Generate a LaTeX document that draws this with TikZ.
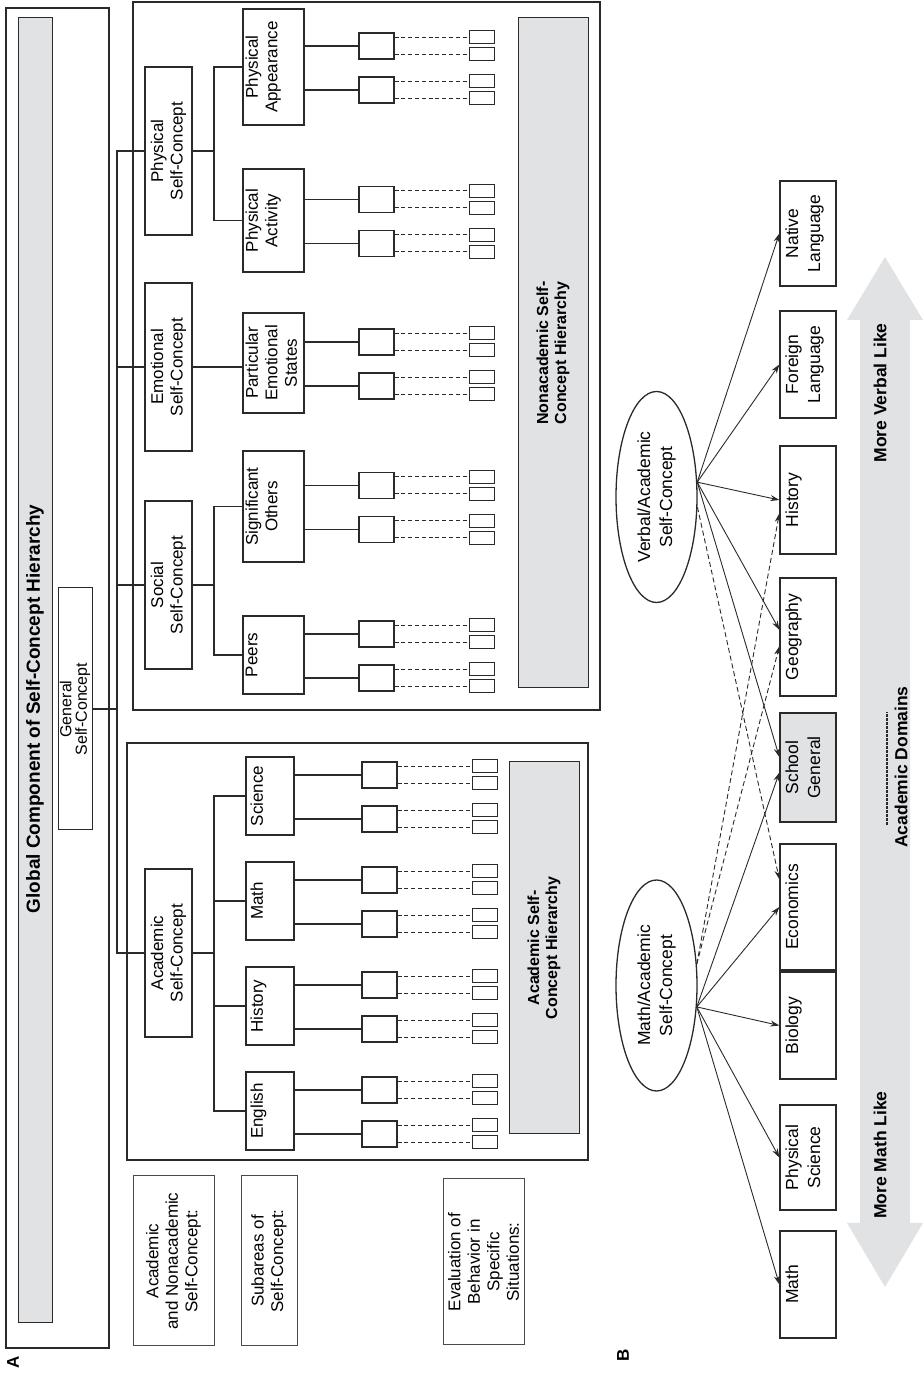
\documentclass[tikz,border=0pt]{standalone}
\usepackage{fontspec}
\setmainfont{Liberation Sans}
\usetikzlibrary{arrows.meta, shapes.geometric, positioning}

\definecolor{ink}{HTML}{2A2A2A}
\definecolor{barfill}{HTML}{E1E2E4}

\newcommand{\bodyfont}{\fontsize{17}{19.5}\selectfont}
\newcommand{\domfont}{\fontsize{17.5}{22}\selectfont}
\newcommand{\headfont}{\fontsize{16}{18}\selectfont\bfseries}
\newcommand{\genfont}{\fontsize{16}{15.5}\selectfont}

\begin{document}
\begin{tikzpicture}[x=1pt, y=1pt, rotate=90, transform shape,
    outer/.style={draw=ink, line width=1.6pt, inner sep=0pt},
    grbar/.style={draw=ink, fill=barfill, line width=1pt, inner sep=0pt, align=center, font=\headfont},
    tier/.style={draw=ink, line width=1.2pt, minimum width=168, minimum height=47, inner sep=0pt,
    align=center, font=\bodyfont},
    subbox/.style={draw=ink, line width=1.2pt, minimum height=61, inner sep=0pt},
    toptext/.style={anchor=north, align=center, inner sep=3pt, font=\bodyfont},
    midbox/.style={draw=ink, line width=1.2pt, minimum width=26, minimum height=35, inner sep=0pt},
    leaf/.style={draw=ink, line width=1pt, minimum width=13, minimum height=25, inner sep=0pt},
    note/.style={draw=ink!85, line width=1pt, inner sep=0pt, align=center, font=\bodyfont},
    dombox/.style={draw=ink, line width=1.3pt, minimum height=56, inner sep=0pt},
    domtext/.style={anchor=north, align=center, inner sep=6pt, font=\domfont},
    selfell/.style={ellipse, draw=ink, line width=1.3pt, minimum width=211, minimum height=81,
    inner sep=0pt, align=center, font=\domfont},
    link/.style={draw=ink, line width=1.3pt},
    dlink/.style={draw=ink, line width=1pt, dash pattern=on 4pt off 2.8pt},
    arr/.style={-{Stealth[length=9pt, width=6pt]}, draw=ink, line width=0.9pt},
    darr/.style={arr, dash pattern=on 5pt off 3pt}
  ]
  \useasboundingbox (0,0) rectangle (1377,-923);

  % Part A: global component
  \node[outer, minimum width=1340, minimum height=103] (fra) at (699,-57.5) {};
  \node[grbar, minimum width=1305, minimum height=34] (gbar) at (706.5,-35) {};
  \node[font=\fontsize{19}{20}\selectfont\bfseries] (gtitle) at (668,-35)
    {Global Component of Self-Concept Hierarchy};
  \node[draw=ink, line width=1pt, minimum width=242, minimum height=34, inner sep=0pt,
    align=center, font=\genfont] (gen) at (668,-75) {General\\Self-Concept};
  \node[font=\fontsize{17}{17}\selectfont\bfseries] (lblA) at (15,-13) {A};

  % Hierarchy frames and grey bars
  \node[outer, minimum width=708, minimum height=467] (nonbox) at (1021,-366.5) {};
  \node[outer, minimum width=417, minimum height=461] (acbox) at (425.5,-357.5) {};
  \node[grbar, minimum width=670, minimum height=70] (nonbar) at (1024,-553)
    {Nonacademic Self-\\Concept Hierarchy};
  \node[grbar, minimum width=372, minimum height=70] (acbar) at (429,-544)
    {Academic Self-\\Concept Hierarchy};

  % Second level
  \node[tier] (phys) at (1226,-168.5) {Physical\\Self-Concept};
  \node[tier] (emo)  at (1010,-168.5) {Emotional\\Self-Concept};
  \node[tier] (soc)  at (792,-168.5)  {Social\\Self-Concept};
  \node[tier] (acad) at (424,-168.5)  {Academic\\Self-Concept};

  % Third level
  \node[subbox, minimum width=116, label={[toptext]north:Physical\\Appearance}] (app) at (1310,-273.5) {};
  \node[subbox, minimum width=103, label={[toptext]north:Physical\\Activity}] (act) at (1156.5,-273.5) {};
  \node[subbox, minimum width=100, label={[toptext]north:Particular\\Emotional\\States}] (pes) at (1014,-273.5) {};
  \node[subbox, minimum width=111, label={[toptext]north:Significant\\Others}] (sig) at (870.5,-273.5) {};
  \node[subbox, minimum width=78, label={[toptext]north:Peers}] (peer) at (722,-273.5) {};
  \node[subbox, minimum width=78, minimum height=48, label={[toptext, inner sep=5pt]north:English}] (eng) at (266,-270) {};
  \node[subbox, minimum width=78, minimum height=48, label={[toptext, inner sep=5pt]north:History}] (his) at (371,-270) {};
  \node[subbox, minimum width=78, minimum height=48, label={[toptext, inner sep=5pt]north:Math}] (mat) at (476,-270) {};
  \node[subbox, minimum width=78, minimum height=48, label={[toptext, inner sep=5pt]north:Science}] (sci) at (581,-270) {};

  % Tree connectors
  \coordinate (gt) at (668,-117);
  \draw[link] (gen.south) -- (gt);
  \foreach \bx in {phys,emo,soc,acad}
    \draw[link] (gt) -| (\bx.north);
  \coordinate (pt) at (1226,-214);
  \draw[link] (phys.south) -- (pt) (pt) -| (app.north) (pt) -| (act.north);
  \draw[link] (emo.south) -- (pes.north -| emo.south);
  \coordinate (st) at (792,-214);
  \draw[link] (soc.south) -- (st) (st) -| (sig.north) (st) -| (peer.north);
  \coordinate (at) at (424,-214);
  \draw[link] (acad.south) -- (at);
  \foreach \bx in {eng,his,mat,sci}
    \draw[link] (at) -| (\bx.north);

  % Specific behaviours
  \foreach \bx/\bu/\bd in {app/1310/376.5, act/1156.5/376.5, pes/1014/376.5, sig/870.5/376.5,
      peer/722/376.5, eng/266/379.5, his/371/379.5, mat/476/379.5, sci/581/379.5} {
    \foreach \side/\off in {a/21, b/-23} {
      \node[midbox] (\bx\side) at ({\bu+\off},{-\bd}) {};
      \draw[link] (\bx.south -| \bx\side) -- (\bx\side.north);
      \foreach \leafno/\lo in {1/8.5, 2/-8.5} {
        \node[leaf] (\bx\side\leafno) at ({\bu+\off+\lo},{-\bd-105}) {};
        \draw[dlink] (\bx\side.south -| \bx\side\leafno) -- (\bx\side\leafno.north);
      }
    }
  }

  % Level captions
  \node[note, minimum width=170, minimum height=81] (capone) at (116,-173.5)
    {Academic\\and Nonacademic\\Self-Concept:};
  \node[note, minimum width=170, minimum height=56] (captwo) at (116,-269)
    {Subareas of\\Self-Concept:};
  \node[note, minimum width=166, minimum height=81] (capthree) at (115,-483.5)
    {Evaluation of\\Behavior in\\Specific\\Situations:};

  % Part B
  \node[font=\fontsize{17}{17}\selectfont\bfseries] (lblB) at (22,-623) {B};
  \fill[barfill] (90,-885) -- (154,-847) -- (154,-860) -- (1057,-860) -- (1057,-847)
    -- (1120,-885) -- (1057,-923) -- (1057,-910) -- (154,-910) -- (154,-923) -- cycle;
  \node[font=\domfont\bfseries] (mathlike) at (222,-880) {More Math Like};
  \node[font=\domfont\bfseries] (verblike) at (984,-880) {More Verbal Like};
  \node[font=\domfont\bfseries] (domains) at (610,-901) {Academic Domains};
  \draw[ink, line width=1.2pt, dash pattern=on 2.5pt off 1.5pt] (552,-887) -- (665,-887);

  \node[dombox, minimum width=107, label={[domtext]north:Math}] (mathb) at (92.5,-808) {};
  \node[dombox, minimum width=105, label={[domtext]north:Physical\\Science}] (physci) at (219.5,-808) {};
  \node[dombox, minimum width=107, label={[domtext]north:Biology}] (bio) at (351.5,-808) {};
  \node[dombox, minimum width=126, label={[domtext]north:Economics}] (econ) at (470,-808) {};
  \node[dombox, fill=barfill, minimum width=109, label={[domtext]north:School\\General}] (school) at (609.5,-808) {};
  \node[dombox, minimum width=118, label={[domtext]north:Geography}] (geo) at (740,-808) {};
  \node[dombox, minimum width=108, label={[domtext]north:History}] (hist) at (877,-808) {};
  \node[dombox, minimum width=107, label={[domtext]north:Foreign\\Language}] (foreign) at (1012.5,-808) {};
  \node[dombox, minimum width=105, label={[domtext]north:Native\\Language}] (native) at (1143.5,-808) {};

  \node[selfell] (msc) at (391.5,-656.5) {Math/Academic\\Self-Concept};
  \node[selfell] (vsc) at (880,-656.5) {Verbal/Academic\\Self-Concept};

  % Math/Academic paths
  \foreach \tg in {mathb.north, physci.north, bio.north, econ.north, school.100}
    \draw[arr] (msc.-118) -- (\tg);
  \draw[darr] (msc.-62) -- (geo.108);
  \draw[darr] (msc.-62) -- (hist.115);

  % Verbal/Academic paths
  \foreach \tg in {native.north, foreign.north, hist.north, geo.76, school.70}
    \draw[arr] (vsc.-70) -- (\tg);
  \draw[darr] (vsc.-104) -- (econ.46);
\end{tikzpicture}
\end{document}
